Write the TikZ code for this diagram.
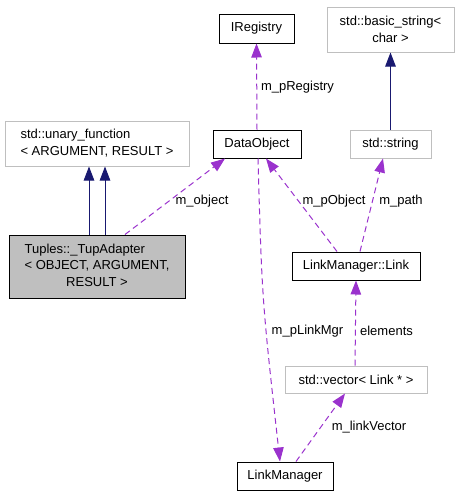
\documentclass[tikz,border=0pt]{standalone}
\usepackage{fontspec}
\setmainfont{Liberation Sans}
\usetikzlibrary{arrows.meta,calc}
\definecolor{navy}{HTML}{191970}
\definecolor{orchid}{HTML}{9A32CD}
\definecolor{greyb}{HTML}{BFBFBF}
\begin{document}
\begin{tikzpicture}[x=1pt,y=-1pt,
  cls/.style={draw=black, line width=1pt, fill=white, inner sep=0pt,
    font=\fontsize{13}{16.7}\selectfont, align=center},
  extcls/.style={cls, draw=greyb},
  inh/.style={draw=navy, line width=1pt, -{Triangle[length=14pt,width=10.5pt]}},
  usage/.style={draw=orchid, line width=1pt, dash pattern=on 6pt off 4pt,
    -{Triangle[length=14pt,width=10.5pt]}},
  lbl/.style={font=\fontsize{13}{15}\selectfont, inner sep=0pt, anchor=base}]
\useasboundingbox (0,0) rectangle (459,496);
% classes
\node[extcls, minimum width=184pt, minimum height=45pt] (unary) at (97,143.5)
  {\begin{tabular}{@{}l@{}}std::unary\_function\\ < ARGUMENT, RESULT >\end{tabular}};
\node[cls, fill=greyb, minimum width=176pt, minimum height=63pt] (tup) at (97,266.5)
  {\begin{tabular}{@{}l@{}}Tuples::\_TupAdapter\\ < OBJECT, ARGUMENT,\\ \multicolumn{1}{@{}c@{}}{RESULT >}\end{tabular}};
\node[cls, minimum width=75pt, minimum height=29pt] (ireg) at (256.5,28.5) {IRegistry};
\node[cls, minimum width=88pt, minimum height=28pt] (dobj) at (257,144) {DataObject};
\node[extcls, minimum width=127pt, minimum height=45pt] (bstr) at (390.5,29.5)
  {std::basic\_string<\\ char >};
\node[extcls, minimum width=81pt, minimum height=28pt] (str) at (390.5,144) {std::string};
\node[cls, minimum width=128pt, minimum height=28pt] (link) at (356,266) {LinkManager::Link};
\node[extcls, minimum width=142pt, minimum height=27pt] (vec) at (356,379.5) {std::vector< Link * >};
\node[cls, minimum width=96pt, minimum height=28pt] (lm) at (285,476) {LinkManager};
% inheritance
\draw[inh] ([xshift=-8pt]tup.north) -- ([xshift=-8pt]unary.south);
\draw[inh] ([xshift=8pt]tup.north) -- ([xshift=8pt]unary.south);
\draw[inh] (str.north) -- (bstr.south);
% usage
\draw[usage] ([xshift=28pt]tup.north) -- ([xshift=-32pt]dobj.south);
\draw[usage] (dobj.north) -- (ireg.south);
\draw[usage] ([xshift=-19pt]link.north) -- ([xshift=9pt]dobj.south);
\draw[usage] ([xshift=4pt]link.north) -- ([xshift=-7.5pt]str.south);
\draw[usage] ([xshift=1pt]dobj.south) .. controls (262,300) .. ([xshift=-5pt]lm.north);
\draw[usage] ([xshift=-1pt]vec.north) -- (link.south);
\draw[usage] ([xshift=11pt]lm.north) -- ([xshift=-11pt]vec.south);
% labels
\node[lbl] (l1) at (202,204.5) {m\_object};
\node[lbl] (l2) at (297.5,90) {m\_pRegistry};
\node[lbl] (l3) at (334,204.5) {m\_pObject};
\node[lbl] (l4) at (401,204.5) {m\_path};
\node[lbl] (l5) at (307.5,334.5) {m\_pLinkMgr};
\node[lbl] (l6) at (386.5,335) {elements};
\node[lbl] (l7) at (369,430.5) {m\_linkVector};
\end{tikzpicture}
\end{document}
